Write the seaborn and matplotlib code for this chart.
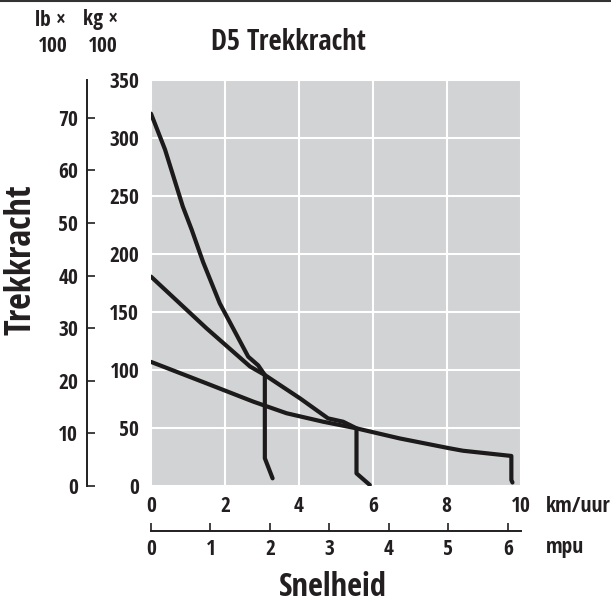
import matplotlib
matplotlib.use("Agg")
import matplotlib.pyplot as plt
from matplotlib.lines import Line2D
import seaborn as sns
import pandas as pd
import numpy as np

# traction curves, speed in km/h, pull in kg x 100
gear1_speed = [0.0, 0.38, 0.86, 1.10, 1.41, 1.86, 2.63, 2.90, 3.08, 3.08, 3.29]
gear1_pull = [321, 290, 241, 221, 193, 157.5, 111.5, 104, 95.7, 23.9, 6.6]

gear2_speed = [0.0, 1.5, 2.68, 3.08, 3.49, 4.03, 4.79, 5.2, 5.56, 5.56, 5.92]
gear2_pull = [180.5, 136, 103, 95.7, 87, 75.6, 58.3, 55.4, 49.7, 10.9, 0.9]

gear3_speed = [0.0, 1.5, 2.77, 3.67, 4.66, 5.56, 6.73, 8.08, 8.44, 9.75, 9.75, 9.78]
gear3_pull = [107, 88.5, 72.7, 62.7, 55.4, 49.7, 41, 32.5, 30.4, 25.9, 5.2, 3]

km_ticks = [0, 2, 4, 6, 8, 10]
kg_ticks = [0, 50, 100, 150, 200, 250, 300, 350]
lb_ticks = [0, 10, 20, 30, 40, 50, 60, 70]
mph_ticks = [0, 1, 2, 3, 4, 5, 6]

KG_PER_LB = 4.536
KM_PER_MILE = 1.609

sns.set_style("white", {"axes.facecolor": "#d1d3d4"})
plt.rcParams['font.family'] = ['Open Sans Condensed', 'DejaVu Sans']
plt.rcParams['font.weight'] = 'bold'
TXT = "#231f20"
FS = 15.5

fig = plt.figure(figsize=(6.11, 6.05), dpi=100)
ax = fig.add_axes([151 / 611, 1 - 486 / 605, 369.6 / 611, 406 / 605])

for spd, pull in [(gear1_speed, gear1_pull), (gear2_speed, gear2_pull), (gear3_speed, gear3_pull)]:
    df = pd.DataFrame({"speed": spd, "pull": pull})
    sns.lineplot(data=df, x="speed", y="pull", sort=False, estimator=None,
                 color="#1c1a1b", lw=3.0, ax=ax, solid_joinstyle="round")

ax.set_xlim(0, 10)
ax.set_ylim(0, 350)
ax.set_xticks(km_ticks)
ax.set_yticks(kg_ticks)
ax.set_xticklabels([str(t) for t in km_ticks])
ax.set_yticklabels([str(t) for t in kg_ticks])
ax.grid(True, color="white", lw=1.5)
ax.set_axisbelow(True)
for s in ax.spines.values():
    s.set_visible(False)
ax.tick_params(axis="x", length=0, pad=7.5, labelsize=FS, colors=TXT)
ax.tick_params(axis="y", length=0, pad=8.5, labelsize=FS, colors=TXT)
ax.set_xlabel("")
ax.set_ylabel("")

# lb axis on the far left
lb_ax = ax.secondary_yaxis(-0.173, functions=(lambda k: k / KG_PER_LB, lambda l: l * KG_PER_LB))
lb_ax.set_yticks(lb_ticks)
lb_ax.tick_params(direction="in", length=6, width=1.2, pad=6.5, labelsize=FS,
                  colors=TXT)
lb_ax.spines["left"].set_linewidth(1.4)
lb_ax.spines["left"].set_color(TXT)

# mph axis under the km/h labels
mph_ax = ax.secondary_xaxis(-0.111, functions=(lambda k: k / KM_PER_MILE, lambda m: m * KM_PER_MILE))
mph_ax.set_xticks(mph_ticks)
mph_ax.tick_params(direction="in", length=6, width=1.2, pad=5.5, labelsize=FS,
                   colors=TXT)
mph_ax.spines["bottom"].set_linewidth(1.4)
mph_ax.spines["bottom"].set_color(TXT)

fig.text(288 / 611, 1 - 43 / 605, "D5 Trekkracht", ha="center", va="center",
         fontsize=20.5, color=TXT)
fig.text(22 / 611, 1 - 260 / 605, "Trekkracht", ha="center", va="center",
         rotation=90, fontsize=26, color=TXT)
fig.text(333 / 611, 1 - 588 / 605, "Snelheid", ha="center", va="center",
         fontsize=23.5, color=TXT)
fig.text(50 / 611, 1 - 20 / 605, "lb ×", ha="center", va="center", fontsize=FS, color=TXT)
fig.text(53 / 611, 1 - 46 / 605, "100", ha="center", va="center", fontsize=FS, color=TXT)
fig.text(118 / 611, 1 - 20 / 605, "kg ×", ha="right", va="center", fontsize=FS, color=TXT)
fig.text(118 / 611, 1 - 46 / 605, "100", ha="right", va="center", fontsize=FS, color=TXT)
fig.text(546 / 611, 1 - 506 / 605, "km/uur", ha="left", va="center", fontsize=FS, color=TXT)
fig.text(546 / 611, 1 - 548 / 605, "mpu", ha="left", va="center", fontsize=FS, color=TXT)

fig.add_artist(Line2D([0, 1], [0.999, 0.999], transform=fig.transFigure,
                      color="#333333", lw=1.5))

fig.savefig("out.png", dpi=100)
plt.close(fig)
